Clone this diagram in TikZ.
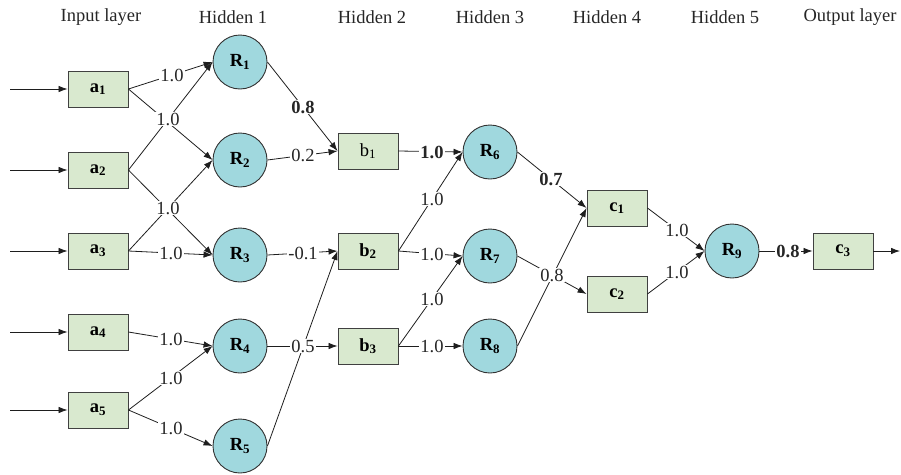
\documentclass[tikz,border=0pt]{standalone}
\usepackage{fontspec}
\setmainfont{Liberation Serif}
\usetikzlibrary{arrows.meta}
\definecolor{boxfill}{RGB}{217,233,207}
\definecolor{circfill}{RGB}{160,216,222}
\definecolor{edgecol}{RGB}{30,30,30}
\begin{document}
\begin{tikzpicture}[x=1pt,y=-1pt,
  every node/.style={font=\fontsize{18.5}{20}\selectfont},
  box/.style={draw=black!75, line width=0.9pt, fill=boxfill, minimum width=60pt, minimum height=36pt, inner sep=0pt, font=\fontsize{18.5}{20}\selectfont\bfseries},
  boxr/.style={box, font=\fontsize{18.5}{20}\selectfont},
  neuron/.style={circle, draw=black!80, line width=0.9pt, fill=circfill, minimum size=54pt, inner sep=0pt, font=\fontsize{18.5}{20}\selectfont\bfseries},
  conn/.style={draw=edgecol, line width=0.8pt, -{Latex[length=9pt,width=6.5pt]}},
  wt/.style={fill=white, inner sep=1pt, text=black!85},
  wtb/.style={wt, font=\fontsize{18.5}{20}\selectfont\bfseries},
  hdr/.style={text=black!85}]
\useasboundingbox (0,0) rectangle (901,474);

% headers
\node[hdr] (h0) at (101,17) {Input layer};
\node[hdr] (h1) at (233,17) {Hidden 1};
\node[hdr] (h2) at (372,17) {Hidden 2};
\node[hdr] (h3) at (490,17) {Hidden 3};
\node[hdr] (h4) at (607,17) {Hidden 4};
\node[hdr] (h5) at (725,17) {Hidden 5};
\node[hdr] (h6) at (850,17) {Output layer};

% input layer
\node[box] (a1) at (98,89) {a\textsubscript{1}};
\node[box] (a2) at (98,170) {a\textsubscript{2}};
\node[box] (a3) at (98,251) {a\textsubscript{3}};
\node[box] (a4) at (98,332) {a\textsubscript{4}};
\node[box] (a5) at (98,410) {a\textsubscript{5}};

% hidden 1
\node[neuron] (R1) at (240,62) {R\textsubscript{1}};
\node[neuron] (R2) at (240,160) {R\textsubscript{2}};
\node[neuron] (R3) at (240,255) {R\textsubscript{3}};
\node[neuron] (R4) at (240,346) {R\textsubscript{4}};
\node[neuron] (R5) at (240,446) {R\textsubscript{5}};

% hidden 2
\node[boxr] (b1) at (368,151) {b\textsubscript{1}};
\node[box] (b2) at (368,251) {b\textsubscript{2}};
\node[box] (b3) at (368,346) {b\textsubscript{3}};

% hidden 3
\node[neuron] (R6) at (490,152) {R\textsubscript{6}};
\node[neuron] (R7) at (490,256) {R\textsubscript{7}};
\node[neuron] (R8) at (490,346) {R\textsubscript{8}};

% hidden 4
\node[box] (c1) at (617,208) {c\textsubscript{1}};
\node[box] (c2) at (617,294) {c\textsubscript{2}};

% hidden 5
\node[neuron] (R9) at (732,251) {R\textsubscript{9}};

% output
\node[box] (c3) at (843,251) {c\textsubscript{3}};

% free ends
\coordinate (i1) at (10,89);
\coordinate (i2) at (10,170);
\coordinate (i3) at (10,251);
\coordinate (i4) at (10,332);
\coordinate (i5) at (10,410);
\coordinate (o1) at (900,251);

% input arrows
\foreach \k in {1,...,5} \draw[conn] (i\k) -- (a\k.west);

% input -> hidden 1
\draw[conn] (a1.east) -- (R1.west);
\draw[conn] (a1.east) -- (R2.west);
\draw[conn] (a2.east) -- (R1.west);
\draw[conn] (a2.east) -- (R3.west);
\draw[conn] (a3.east) -- (R2.west);
\draw[conn] (a3.east) -- (R3.west);
\draw[conn] (a4.east) -- (R4.west);
\draw[conn] (a5.east) -- (R4.west);
\draw[conn] (a5.east) -- (R5.west);

% hidden 1 -> hidden 2
\draw[conn] (R1.east) -- (b1.west);
\draw[conn] (R2.east) -- (b1.west);
\draw[conn] (R3.east) -- (b2.west);
\draw[conn] (R5.east) -- (b2.west);
\draw[conn] (R4.east) -- (b3.west);

% hidden 2 -> hidden 3
\draw[conn] (b1.east) -- (R6.west);
\draw[conn] (b2.east) -- (R6.west);
\draw[conn] (b2.east) -- (R7.west);
\draw[conn] (b3.east) -- (R7.west);
\draw[conn] (b3.east) -- (R8.west);

% hidden 3 -> hidden 4
\draw[conn] (R6.east) -- (c1.west);
\draw[conn] (R8.east) -- (c1.west);
\draw[conn] (R7.east) -- (c2.west);

% hidden 4 -> hidden 5
\draw[conn] (c1.east) -- (R9.west);
\draw[conn] (c2.east) -- (R9.west);

% hidden 5 -> output
\draw[conn] (R9.east) -- (c3.west);
\draw[conn] (c3.east) -- (o1);

% weights
\node[wt] (w1) at (172,75) {1.0};
\node[wt] (w2) at (168,119) {1.0};
\node[wt] (w3) at (168,208) {1.0};
\node[wt] (w4) at (171,253) {1.0};
\node[wt] (w5) at (171,339) {1.0};
\node[wt] (w6) at (171,378) {1.0};
\node[wt] (w7) at (171,428) {1.0};
\node[wtb] (w8) at (303,107) {0.8};
\node[wt] (w9) at (303,155) {0.2};
\node[wt] (w10) at (303,253) {-0.1};
\node[wt] (w11) at (303,346) {0.5};
\node[wtb] (w12) at (432,152) {1.0};
\node[wt] (w13) at (432,199) {1.0};
\node[wt] (w14) at (432,254) {1.0};
\node[wt] (w15) at (432,299) {1.0};
\node[wt] (w16) at (432,346) {1.0};
\node[wtb] (w17) at (551,179) {0.7};
\node[wt] (w18) at (552,275) {0.8};
\node[wt] (w19) at (677,230) {1.0};
\node[wt] (w20) at (677,272) {1.0};
\node[wtb] (w21) at (788,251) {0.8};
\end{tikzpicture}
\end{document}
